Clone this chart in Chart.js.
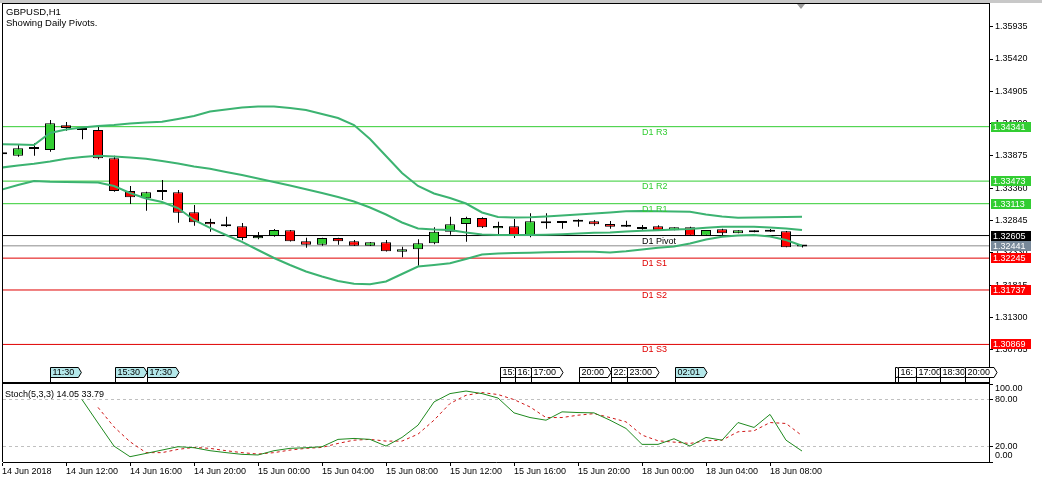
<!DOCTYPE html>
<html><head><meta charset="utf-8">
<script src="https://cdn.jsdelivr.net/npm/chart.js@4.4.0/dist/chart.umd.min.js"></script>
<style>
html,body{margin:0;padding:0;background:#fff;width:1042px;height:482px;overflow:hidden;}
#c1{position:absolute;left:0;top:0;}
#c2{position:absolute;left:0;top:383px;}
</style></head><body>
<canvas id="c1" width="1042" height="383"></canvas>
<canvas id="c2" width="1042" height="99"></canvas>
<script>
// ---------- DATA ----------
const symbolTitle = 'GBPUSD,H1';
const subTitle = 'Showing Daily Pivots.';
const xTickIndex = [0,4,8,12,16,20,24,28,32,36,40,44,48];
const xTickLabels = ['14 Jun 2018','14 Jun 12:00','14 Jun 16:00','14 Jun 20:00','15 Jun 00:00','15 Jun 04:00','15 Jun 08:00','15 Jun 12:00','15 Jun 16:00','15 Jun 20:00','18 Jun 00:00','18 Jun 04:00','18 Jun 08:00'];
const yTicks = [1.35935,1.35420,1.34905,1.34390,1.33875,1.33360,1.32845,1.32330,1.31815,1.31300,1.30785];

const opens  = [1.33900,1.33878,1.33985,1.33969,1.34363,1.34320,1.34288,1.33837,1.33315,1.33199,1.33299,1.33294,1.32975,1.32821,1.32784,1.32752,1.32561,1.32598,1.32689,1.32513,1.32459,1.32566,1.32513,1.32443,1.32497,1.32348,1.32386,1.32481,1.32667,1.32789,1.32885,1.32721,1.32752,1.32614,1.32826,1.32805,1.32826,1.32832,1.32789,1.32747,1.32710,1.32752,1.32689,1.32737,1.32603,1.32705,1.32641,1.32689,1.32667,1.32673,1.32430];
const highs  = [1.33910,1.34049,1.34075,1.34447,1.34415,1.34328,1.34368,1.33878,1.33395,1.33304,1.33491,1.33331,1.33092,1.32874,1.32906,1.32805,1.32662,1.32710,1.32694,1.32570,1.32569,1.32569,1.32534,1.32502,1.32534,1.32428,1.32545,1.32737,1.32906,1.32906,1.32896,1.32826,1.32869,1.32960,1.32960,1.32821,1.32864,1.32853,1.32837,1.32842,1.32773,1.32768,1.32737,1.32747,1.32694,1.32715,1.32689,1.32689,1.32710,1.32678,1.32446];
const lows   = [1.33890,1.33862,1.33878,1.33942,1.34277,1.34139,1.33821,1.33304,1.33108,1.33001,1.33172,1.32810,1.32762,1.32667,1.32742,1.32529,1.32545,1.32587,1.32510,1.32411,1.32443,1.32459,1.32439,1.32439,1.32351,1.32259,1.32124,1.32465,1.32619,1.32507,1.32726,1.32630,1.32566,1.32577,1.32715,1.32715,1.32747,1.32762,1.32715,1.32742,1.32699,1.32686,1.32689,1.32603,1.32603,1.32598,1.32641,1.32657,1.32662,1.32418,1.32415];
const closes = [1.33900,1.33996,1.33985,1.34395,1.34320,1.34288,1.33837,1.33315,1.33215,1.33294,1.33299,1.32969,1.32816,1.32784,1.32752,1.32566,1.32598,1.32694,1.32513,1.32459,1.32566,1.32513,1.32443,1.32497,1.32354,1.32386,1.32481,1.32667,1.32784,1.32885,1.32737,1.32757,1.32614,1.32832,1.32800,1.32805,1.32826,1.32784,1.32747,1.32747,1.32710,1.32689,1.32737,1.32603,1.32694,1.32641,1.32689,1.32657,1.32667,1.32418,1.32441];

const bbUpper  = [1.34061,1.34057,1.34049,1.34240,1.34296,1.34328,1.34352,1.34368,1.34392,1.34408,1.34420,1.34463,1.34511,1.34583,1.34615,1.34647,1.34663,1.34663,1.34639,1.34607,1.34543,1.34479,1.34368,1.34144,1.33874,1.33603,1.33395,1.33276,1.33204,1.33116,1.32973,1.32901,1.32893,1.32896,1.32909,1.32925,1.32941,1.32957,1.32973,1.32992,1.32996,1.32993,1.32988,1.32985,1.32941,1.32909,1.32890,1.32893,1.32896,1.32901,1.32905];
const bbMiddle = [1.33690,1.33722,1.33749,1.33786,1.33831,1.33858,1.33877,1.33866,1.33850,1.33829,1.33794,1.33754,1.33706,1.33669,1.33618,1.33570,1.33515,1.33459,1.33403,1.33344,1.33283,1.33219,1.33148,1.33052,1.32941,1.32813,1.32718,1.32702,1.32694,1.32654,1.32622,1.32614,1.32614,1.32614,1.32617,1.32625,1.32638,1.32649,1.32654,1.32670,1.32681,1.32689,1.32700,1.32710,1.32729,1.32745,1.32747,1.32747,1.32734,1.32716,1.32694];
const bbLower  = [1.33339,1.33411,1.33475,1.33464,1.33459,1.33454,1.33449,1.33395,1.33283,1.33196,1.33140,1.33044,1.32853,1.32726,1.32614,1.32503,1.32375,1.32247,1.32136,1.32032,1.31952,1.31881,1.31836,1.31830,1.31873,1.31992,1.32112,1.32136,1.32163,1.32231,1.32303,1.32319,1.32327,1.32332,1.32338,1.32343,1.32346,1.32348,1.32335,1.32355,1.32383,1.32412,1.32431,1.32479,1.32542,1.32585,1.32606,1.32614,1.32590,1.32534,1.32443];

const stochMain   = [null,null,null,null,null,80,50,20.4,6.8,11,15.3,19.6,18.3,14.5,12,9.8,9,14.5,17.5,18.3,19.6,29,30.2,29,20.4,31.5,47.2,77,87.7,91,87.7,82,63,57,53.6,64.3,63.4,63,53.6,43,22.6,22.6,29.8,20.4,31.5,28,50.6,44.3,61,28,14.05];
const stochSignal = [null,null,null,null,null,null,70,45,26,12,12,16.2,18.7,17.5,14.5,12,10.2,12,15.3,17.5,18.7,23.8,28,29,26.8,26.8,35.7,53.6,75,85.5,89,86.5,80,70.6,57,57,60,62,57,51.5,34.5,27.2,25.5,23.8,27.2,28,38.7,40,50.6,49.4,33.79];
const stochTitle = 'Stoch(5,3,3) 14.05 33.79';
const stochTicks = [0,20,80,100];

const pivotNames  = ['D1 R3','D1 R2','D1 R1','D1 Pivot','D1 S1','D1 S2','D1 S3'];
const pivotValues = [1.34341,1.33473,1.33113,1.32605,1.32245,1.31737,1.30869];
const pivotKinds  = ['r','r','r','p','s','s','s'];
const pivotDayStartIndex = 40;
const bidPrice = 1.32441;

const eventLabels = ['11:30','15:30','17:30','15:','16:','17:00','20:00','22:','23:00','02:01','','16:','17:00','18:30','20:00'];
const eventPos    = [3,7.06,9.06,31.1,32.06,33.06,36.06,38.06,39.06,42.06,55.8,56,57.1,58.6,60.2];
const eventCyan   = [1,1,1,0,0,0,0,0,0,1,0,0,0,0,0];

// ---------- STYLE ----------
const FONT = '"Liberation Sans", Arial, sans-serif';
const X_MIN = 0.0625, X_MAX = 61.6875;
const Y_MIN = 1.30286, Y_MAX = 1.36297;
const GREEN = '#32cd32', RED = '#ff0000', BB = '#3cb371';
const kindColor = {r:'#32cd32', p:'#000000', s:'#e00000'};
const kindBox = {r:'#32cd32', p:'#000000', s:'#ff0000'};

const n = opens.length;
const idx = [...Array(n).keys()];
const bodyColors = idx.map(i => closes[i] > opens[i] ? GREEN : (closes[i] < opens[i] ? RED : '#000'));

function lineDs(arr, color, width, order){
  return {type:'line', data: idx.map(i=>({x:i, y:arr[i]})), borderColor:color, borderWidth:width,
          pointRadius:0, tension:0, order:order, xAxisID:'x', yAxisID:'y'};
}
const pivotDs = pivotValues.map((v,k)=>({type:'line', data:[{x:X_MIN,y:v},{x:X_MAX,y:v}],
  borderColor: kindColor[pivotKinds[k]], borderWidth:1, pointRadius:0, order:6, xAxisID:'x', yAxisID:'y'}));
const bidDs = {type:'line', data:[{x:X_MIN,y:bidPrice},{x:X_MAX,y:bidPrice}], borderColor:'#8c8c8c',
  borderWidth:1, pointRadius:0, order:6, xAxisID:'x', yAxisID:'y'};

function noPad(s){ s.paddingTop = 0; s.paddingBottom = 0; s.paddingLeft = 0; s.paddingRight = 0; }

const mainDecor = {
  id:'mainDecor',
  beforeDraw(chart){
    const c = chart.ctx; c.save();
    c.fillStyle='#fff'; c.fillRect(0,0,chart.width,chart.height);
    c.fillStyle='#c8c8c8'; c.fillRect(0,0,chart.width,3);
    c.restore();
  },
  afterDatasetsDraw(chart){
    const c = chart.ctx, xs = chart.scales.x, ys = chart.scales.y;
    c.save();
    c.font = '9px ' + FONT; c.textBaseline='top'; c.textAlign='left';
    const lx = xs.getPixelForValue(pivotDayStartIndex);
    pivotValues.forEach((v,k)=>{
      c.fillStyle = kindColor[pivotKinds[k]];
      c.fillText(pivotNames[k], lx, ys.getPixelForValue(v)+1);
    });
    c.restore();
  },
  afterDraw(chart){
    const c = chart.ctx, xs = chart.scales.x, ys = chart.scales.y, a = chart.chartArea;
    c.save();
    c.strokeStyle='#000'; c.lineWidth=1;
    c.beginPath();
    c.moveTo(2.5, 3); c.lineTo(2.5, 383);
    c.moveTo(2, 3.5); c.lineTo(a.right+1, 3.5);
    c.moveTo(2, 382.5); c.lineTo(a.right+1, 382.5);
    c.stroke();
    c.fillStyle='#000'; c.font='9.5px '+FONT; c.textAlign='left'; c.textBaseline='alphabetic';
    c.fillText(symbolTitle, 6, 15);
    c.fillText(subTitle, 6, 26);
    c.font='9px '+FONT; c.textBaseline='middle';
    const boxes = pivotValues.map((v,k)=>({v, col:kindBox[pivotKinds[k]]}));
    boxes.push({v:bidPrice, col:'#778899'});
    boxes.forEach(b=>{
      const py = Math.round(ys.getPixelForValue(b.v));
      c.fillStyle=b.col; c.fillRect(a.right+2, py-5, 40, 10);
      c.fillStyle='#fff'; c.fillText(b.v.toFixed(5), a.right+4, py+0.5);
    });
    const top = 367, h = 10;
    c.font='9px '+FONT; c.textBaseline='middle';
    eventLabels.forEach((t,k)=>{
      const left = Math.round(xs.getPixelForValue(eventPos[k])) + 0.5;
      const nat = c.measureText(t).width + 6;
      let w = nat;
      if (k+1 < eventLabels.length){
        const nl = Math.round(xs.getPixelForValue(eventPos[k+1])) + 0.5;
        if (nl - left < w + 3) w = Math.max(nl - left - 1, 1);
      }
      c.beginPath();
      c.moveTo(left, top+0.5); c.lineTo(left+w, top+0.5); c.lineTo(left+w+3, top+h/2+0.5);
      c.lineTo(left+w, top+h+0.5); c.lineTo(left, top+h+0.5); c.closePath();
      c.fillStyle = eventCyan[k] ? '#b4e8ea' : '#ffffff'; c.fill();
      c.strokeStyle='#000'; c.stroke();
      c.beginPath(); c.moveTo(left, top+h); c.lineTo(left, 382); c.stroke();
      c.save(); c.beginPath(); c.rect(left, top, w, h+1); c.clip();
      c.fillStyle='#000'; c.fillText(t, left+2, top+h/2+1);
      c.restore();
    });
    const tx = xs.getPixelForValue(n-1) - 1;
    c.fillStyle='#9a9a9a';
    c.beginPath(); c.moveTo(tx-4, 4); c.lineTo(tx+4, 4); c.lineTo(tx, 9); c.closePath(); c.fill();
    c.restore();
  }
};

new Chart(document.getElementById('c1'), {
  type:'bar',
  data:{ datasets:[
    ...pivotDs, bidDs,
    {type:'bar', label:'wick', data: idx.map(i=>({x:i, y:[lows[i], highs[i]]})), backgroundColor:'#000',
     borderWidth:0, barThickness:1, grouped:false, order:4, xAxisID:'xw', yAxisID:'y', inflateAmount:0},
    {type:'bar', label:'body', data: idx.map(i=>({x:i, y:[opens[i], closes[i]]})), backgroundColor: bodyColors,
     borderColor:'#000', borderWidth:1, borderSkipped:false, barThickness:10, minBarLength:2, grouped:false,
     order:3, xAxisID:'x', yAxisID:'y', inflateAmount:0},
    lineDs(bbUpper, BB, 2, 1), lineDs(bbMiddle, BB, 2, 1), lineDs(bbLower, BB, 2, 1)
  ]},
  options:{
    responsive:false, animation:false, events:[],
    layout:{padding:{left:3, top:4, right:0, bottom:2}},
    plugins:{legend:{display:false}, tooltip:{enabled:false}},
    scales:{
      x:{type:'linear', min:X_MIN, max:X_MAX, offset:false, display:false},
      xw:{type:'linear', min:X_MIN-1/32, max:X_MAX-1/32, offset:false, display:false},
      y:{type:'linear', position:'right', min:Y_MIN, max:Y_MAX, beginAtZero:false,
         afterFit(s){ s.width = 53; noPad(s); },
         afterBuildTicks(s){ s.ticks = yTicks.map(v=>({value:v})); },
         ticks:{autoSkip:false, padding:2, color:'#000', font:{family:FONT, size:9}, callback:v=>Number(v).toFixed(5)},
         grid:{drawOnChartArea:false, drawTicks:true, tickLength:4, tickColor:'#000', color:'#000'},
         border:{display:true, color:'#000', width:1}}
    }
  },
  plugins:[mainDecor]
});

const stochDecor = {
  id:'stochDecor',
  beforeDraw(chart){ const c=chart.ctx; c.save(); c.fillStyle='#fff'; c.fillRect(0,0,chart.width,chart.height); c.restore(); },
  afterDraw(chart){
    const c = chart.ctx, ys = chart.scales.y, a = chart.chartArea;
    c.save();
    c.strokeStyle='#000'; c.lineWidth=1;
    c.beginPath(); c.moveTo(2.5, 0); c.lineTo(2.5, a.bottom); c.moveTo(2, 0.5); c.lineTo(a.right+1, 0.5); c.stroke();
    c.fillStyle='#000'; c.font='9px '+FONT; c.textAlign='left'; c.textBaseline='middle';
    const off = {100:5, 80:0, 20:0, 0:-6};
    stochTicks.forEach(v=>{ c.fillText(v.toFixed(2), a.right+6, ys.getPixelForValue(v)+off[v]); });
    c.textBaseline='alphabetic';
    c.fillText(stochTitle, 5, 13.5);
    c.restore();
  }
};

new Chart(document.getElementById('c2'), {
  type:'line',
  data:{ datasets:[
    {data: idx.filter(i=>stochMain[i]!==null).map(i=>({x:i, y:stochMain[i]})), borderColor:'#1f8a1f', borderWidth:1, pointRadius:0, tension:0, order:0},
    {data: idx.filter(i=>stochSignal[i]!==null).map(i=>({x:i, y:stochSignal[i]})), borderColor:'#d01818', borderWidth:1, borderDash:[3,3], pointRadius:0, tension:0, order:1}
  ]},
  options:{
    responsive:false, animation:false, events:[],
    layout:{padding:{left:3, top:1, right:0, bottom:0}},
    plugins:{legend:{display:false}, tooltip:{enabled:false}},
    scales:{
      x:{type:'linear', min:X_MIN, max:X_MAX, offset:false, position:'bottom',
         afterFit(s){ s.height = 20; noPad(s); },
         afterBuildTicks(s){ s.ticks = xTickIndex.map(v=>({value:v})); },
         ticks:{autoSkip:false, maxRotation:0, minRotation:0, align:'start', padding:0, color:'#000', font:{family:FONT, size:9},
                callback:(v)=>{ const k = xTickIndex.indexOf(Math.round(v)); return k>=0 ? xTickLabels[k] : ''; }},
         grid:{drawOnChartArea:false, drawTicks:true, tickLength:4, tickColor:'#000', color:'#000'},
         border:{display:true, color:'#000', width:1}},
      y:{type:'linear', position:'right', min:0, max:100,
         afterFit(s){ s.width = 53; noPad(s); },
         afterBuildTicks(s){ s.ticks = stochTicks.map(v=>({value:v})); },
         ticks:{display:false},
         grid:{drawOnChartArea:true, drawTicks:true, tickLength:4, tickColor:'#000',
               color:(ctx)=> (ctx.tick && (ctx.tick.value===20 || ctx.tick.value===80)) ? '#c0c0c0' : 'rgba(0,0,0,0)'},
         border:{display:true, color:'#000', width:1, dash:[3,3]}}
    }
  },
  plugins:[stochDecor]
});
</script>
</body></html>
